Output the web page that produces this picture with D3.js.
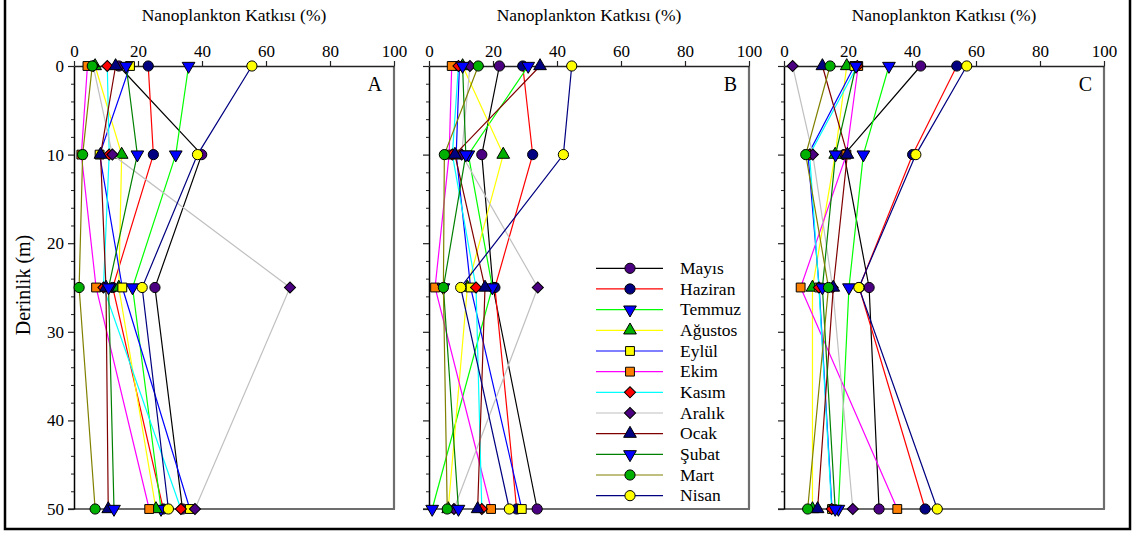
<!DOCTYPE html>
<html>
<head>
<meta charset="utf-8">
<script src="https://cdn.jsdelivr.net/npm/d3@7"></script>
<style>
  html, body { margin: 0; padding: 0; background: #fff; }
  svg { display: block; }
  text { font-family: "Liberation Serif", "Times New Roman", serif; fill: #000; }
</style>
</head>
<body>
<svg id="chart" width="1132" height="537"></svg>
<script>
// Sampling depths (m)
const depths = [0, 10, 25, 50];

// Months (legend order)
const months = ["Mayıs", "Haziran", "Temmuz", "Ağustos", "Eylül", "Ekim",
                "Kasım", "Aralık", "Ocak", "Şubat", "Mart", "Nisan"];

// Line colour / marker fill / marker shape for each month
const lineColors = ["#000000", "#ff0000", "#00ff00", "#ffff00", "#0000ff", "#ff00ff",
                    "#00ffff", "#c0c0c0", "#800000", "#008000", "#808000", "#000080"];
const markerFills = ["#4b0082", "#000080", "#0000ff", "#00b000", "#ffff00", "#ff8000",
                     "#ff0000", "#4b0082", "#000080", "#0000ff", "#00b000", "#ffff00"];
const markerShapes = ["circle", "circle", "triDown", "triUp", "square", "square",
                      "diamond", "diamond", "triUp", "triDown", "circle", "circle"];

// Nanoplankton contribution (%) at 0, 10, 25, 50 m — station A
const stationA = [
  [14.0, 39.9, 25.3, 33.9],   // Mayıs
  [23.2, 24.8, 12.1, 27.9],   // Haziran
  [35.8, 31.8, 18.3, 27.2],   // Temmuz
  [6.6, 14.9, 14.0, 25.6],    // Ağustos
  [17.5, 8.0, 15.1, 36.2],    // Eylül
  [4.2, 2.3, 6.9, 23.5],      // Ekim
  [10.4, 11.0, 9.2, 33.4],    // Kasım
  [6.0, 12.0, 67.5, 37.8],    // Aralık
  [13.0, 8.3, 10.0, 10.7],    // Ocak
  [16.3, 19.8, 10.8, 12.5],   // Şubat
  [5.7, 2.7, 1.6, 6.6],       // Mart
  [55.6, 38.6, 21.3, 29.5]    // Nisan
];

// Station B
const stationB = [
  [22.0, 16.5, 20.0, 33.8],
  [29.3, 32.4, 20.6, 27.4],
  [31.0, 12.3, 19.8, 1.0],
  [10.5, 23.2, 12.0, 6.0],
  [9.5, 8.5, 13.0, 29.0],
  [7.1, 6.3, 1.9, 19.4],
  [9.2, 7.3, 14.7, 16.5],
  [12.8, 10.2, 34.0, 7.8],
  [34.7, 8.1, 17.5, 15.2],
  [10.5, 11.5, 4.5, 9.2],
  [15.4, 4.8, 4.5, 5.7],
  [44.6, 42.0, 9.9, 25.1]
];

// Station C
const stationC = [
  [42.7, 18.8, 26.6, 29.7],
  [54.0, 40.2, 23.5, 44.1],
  [32.8, 24.8, 20.3, 17.0],
  [19.6, 16.0, 8.9, 8.9],
  [22.0, 7.5, 11.0, 15.0],
  [23.2, 19.5, 5.2, 35.4],
  [22.9, 8.0, 10.9, 14.9],
  [2.7, 9.0, 15.2, 21.5],
  [12.0, 19.8, 15.4, 10.5],
  [22.5, 16.1, 12.0, 16.0],
  [14.4, 6.8, 13.9, 7.4],
  [57.1, 41.2, 23.4, 47.9]
];

const panels = [
  { letter: "A", data: stationA, left: 74, showDepthLabels: true, legend: false },
  { letter: "B", data: stationB, left: 429, showDepthLabels: false, legend: true },
  { letter: "C", data: stationC, left: 784, showDepthLabels: false, legend: false }
];

const xTicks = [0, 20, 40, 60, 80, 100];
const yTicks = [0, 10, 20, 30, 40, 50];
const yMinor = d3.range(0, 51, 2).filter(v => v % 10 !== 0);

const plotW = 320, plotTop = 66, plotBottom = 509;
const svg = d3.select("#chart");

// Outer figure frame
svg.append("path")
  .attr("d", "M5,0 V529 H1130 V0")
  .attr("fill", "none").attr("stroke", "#000").attr("stroke-width", 2.5);

function symbolPath(shape) {
  switch (shape) {
    case "circle": return d3.symbol(d3.symbolCircle, 82)();
    case "triUp": return d3.symbol(d3.symbolTriangle, 70)();
    case "triDown": return d3.symbol(d3.symbolTriangle, 70)();
    case "square": return d3.symbol(d3.symbolSquare, 78)();
    case "diamond": return d3.symbol(d3.symbolSquare, 62)();
  }
}
function symbolRotation(shape) {
  if (shape === "triDown") return 180;
  if (shape === "diamond") return 45;
  return 0;
}

function drawMarker(g, i, cx, cy) {
  const s = markerShapes[i];
  g.append("path")
    .attr("d", symbolPath(s))
    .attr("transform", `translate(${cx},${cy}) rotate(${symbolRotation(s)})`)
    .attr("fill", markerFills[i])
    .attr("stroke", "#000")
    .attr("stroke-width", 1);
}

panels.forEach(p => {
  const x = d3.scaleLinear().domain([0, 100]).range([p.left, p.left + plotW]);
  const y = d3.scaleLinear().domain([0, 50]).range([plotTop, plotBottom]);
  const g = svg.append("g");

  // Title
  g.append("text")
    .attr("x", p.left + plotW / 2).attr("y", 21)
    .attr("text-anchor", "middle")
    .style("font-size", "17.5px")
    .text("Nanoplankton Katkısı (%)");

  // Right and bottom frame lines
  g.append("line")
    .attr("x1", x(100)).attr("x2", x(100)).attr("y1", y(0)).attr("y2", y(50))
    .attr("stroke", "#6e6e6e").attr("stroke-width", 2.2);
  g.append("line")
    .attr("x1", x(0) - 6).attr("x2", x(100) + 1).attr("y1", y(50)).attr("y2", y(50))
    .attr("stroke", "#6e6e6e").attr("stroke-width", 2.2);

  // Top axis
  const xa = g.append("g").attr("transform", `translate(0,${y(0)})`)
    .call(d3.axisTop(x).tickValues(xTicks).tickSize(5).tickSizeOuter(0).tickPadding(4));
  xa.select(".domain").attr("stroke", "#222").attr("stroke-width", 1.4);
  xa.selectAll(".tick line").attr("stroke", "#222").attr("stroke-width", 1.2);
  xa.selectAll(".tick text")
    .style("font-size", "17px")
    .style("font-family", '"Liberation Serif", "Times New Roman", serif');

  // Left axis (major + minor ticks)
  const ya = g.append("g").attr("transform", `translate(${x(0)},0)`)
    .call(d3.axisLeft(y).tickValues(yTicks).tickSize(6).tickSizeOuter(0).tickPadding(4));
  ya.select(".domain").attr("stroke", "#000").attr("stroke-width", 1.5);
  ya.selectAll(".tick line").attr("stroke", "#222").attr("stroke-width", 1.2);
  ya.selectAll(".tick text")
    .style("font-size", "17px")
    .style("font-family", '"Liberation Serif", "Times New Roman", serif')
    .style("display", p.showDepthLabels ? null : "none");
  const ym = g.append("g").attr("transform", `translate(${x(0)},0)`)
    .call(d3.axisLeft(y).tickValues(yMinor).tickSize(3).tickSizeOuter(0).tickFormat(""));
  ym.select(".domain").remove();
  ym.selectAll(".tick line").attr("stroke", "#222").attr("stroke-width", 1);

  // Panel letter
  g.append("text")
    .attr("x", x(100) - 12).attr("y", 91)
    .attr("text-anchor", "end")
    .style("font-size", "20px")
    .text(p.letter);

  // Profiles: line then markers, month by month
  const line = d3.line().x(d => x(d[0])).y(d => y(d[1]));
  p.data.forEach((vals, i) => {
    const pts = vals.map((v, k) => [v, depths[k]]);
    g.append("path")
      .attr("d", line(pts))
      .attr("fill", "none")
      .attr("stroke", lineColors[i])
      .attr("stroke-width", 1.2);
    pts.forEach(pt => drawMarker(g, i, x(pt[0]), y(pt[1])));
  });

  // Legend
  if (p.legend) {
    const lg = g.append("g");
    months.forEach((m, i) => {
      const cy = 268.3 + i * 20.67;
      lg.append("line")
        .attr("x1", 596).attr("x2", 663).attr("y1", cy).attr("y2", cy)
        .attr("stroke", lineColors[i]).attr("stroke-width", 1.2);
      drawMarker(lg, i, 630, cy);
      lg.append("text")
        .attr("x", 680).attr("y", cy).attr("dy", "0.33em")
        .style("font-size", "17.5px")
        .text(m);
    });
  }
});

// Depth axis title
svg.append("text")
  .attr("transform", "translate(30,285) rotate(-90)")
  .attr("text-anchor", "middle")
  .style("font-size", "20px")
  .text("Derinlik (m)");
</script>
</body>
</html>
